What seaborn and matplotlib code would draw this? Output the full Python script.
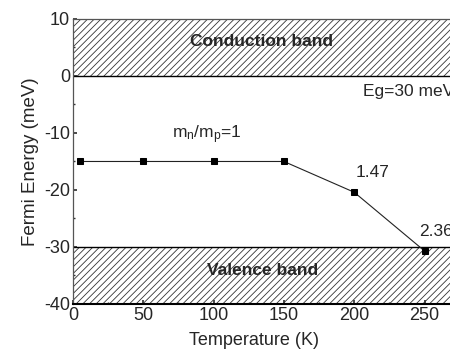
import matplotlib
matplotlib.use("Agg")
import matplotlib.pyplot as plt
import seaborn as sns
import pandas as pd

# Fermi level vs temperature for the quoted mass ratios
temperature = [5, 50, 100, 150, 200, 250]
fermi_energy = [-15.0, -15.0, -15.0, -15.0, -20.4, -30.7]

conduction_band = (0, 10)
valence_band = (-40, -30)

sns.set_theme(style="ticks")
plt.rcParams["font.family"] = ["Liberation Sans", "DejaVu Sans"]
plt.rcParams["axes.unicode_minus"] = False
plt.rcParams["mathtext.fontset"] = "custom"
plt.rcParams["mathtext.rm"] = "Liberation Sans"
plt.rcParams["mathtext.it"] = "Liberation Sans"
plt.rcParams["hatch.linewidth"] = 0.6
plt.rcParams["hatch.color"] = "#333333"

fig = plt.figure(figsize=(4.5, 3.49), dpi=100)
ax = fig.add_axes([0.1622, 0.129, 0.85, 0.8166])

for lo, hi in (conduction_band, valence_band):
    ax.axhspan(lo, hi, facecolor="none", edgecolor="#333333", hatch="/////",
               linewidth=0, zorder=1)
ax.axhline(0, color="black", lw=1.0, zorder=2)
ax.axhline(-30, color="black", lw=1.0, zorder=2)

df = pd.DataFrame({"T": temperature, "E": fermi_energy})
sns.lineplot(data=df, x="T", y="E", ax=ax, color="#222222", lw=0.8,
             marker="s", markersize=4.5, markerfacecolor="black",
             markeredgecolor="black", zorder=3)

ax.set_xlim(0, 272)
ax.set_ylim(-40, 10)
ax.set_xticks([0, 50, 100, 150, 200, 250])
ax.set_yticks([10, 0, -10, -20, -30, -40])
ax.set_yticks([5, -5, -15, -25, -35], minor=True)
ax.set_xticks([25, 75, 125, 175, 225], minor=True)
ax.tick_params(axis="both", which="major", direction="in", length=3,
               labelsize=13, pad=2, color="#333333")
ax.tick_params(axis="both", which="minor", direction="in", length=1.5,
               color="#333333")

for side in ("left", "top", "right"):
    ax.spines[side].set_color("#555555")
    ax.spines[side].set_linewidth(0.9)
ax.spines["bottom"].set_color("black")
ax.spines["bottom"].set_linewidth(1.5)

ax.set_xlabel("Temperature (K)", fontsize=13)
ax.set_ylabel("Fermi Energy (meV)", fontsize=13.5)
ax.xaxis.set_label_coords(0.473, -0.098)
ax.yaxis.set_label_coords(-0.089, 0.5)

ax.text(134, 6, "Conduction band", fontsize=12.5, fontweight="bold",
        ha="center", va="center", zorder=4)
ax.text(135, -34.2, "Valence band", fontsize=12.5, fontweight="bold",
        ha="center", va="center", zorder=4)
ax.text(206, -2.8, "Eg=30 meV", fontsize=12.5, ha="left", va="center")
ax.text(95, -10.3, r"m$_\mathrm{n}$/m$_\mathrm{p}$=1", fontsize=12.5,
        ha="center", va="center")
ax.text(201, -16.9, "1.47", fontsize=12.5, ha="left", va="center")
ax.text(246, -27.2, "2.36", fontsize=12.5, ha="left", va="center")

fig.savefig("out.png", dpi=100)
